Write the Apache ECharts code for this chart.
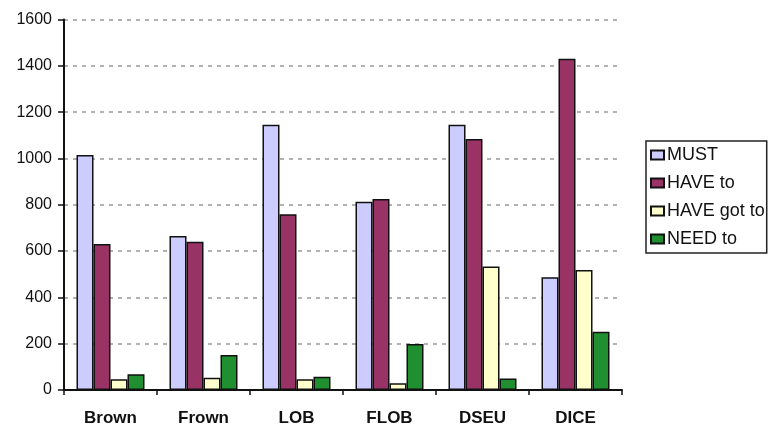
<!DOCTYPE html>
<html lang="en">
<head>
    <meta charset="UTF-8">
    <title>Modal verbs</title>
    <script src="https://cdn.jsdelivr.net/npm/echarts@6/dist/echarts.min.js"></script>
<style>
    html,body{margin:0;padding:0;background:#fff;}
    #zhuzhuangtu{
        width: 773px;
        height: 429px;
    }
</style>
</head>
<body>
<div id="zhuzhuangtu"></div>
<script>
    var corpora = ['Brown', 'Frown', 'LOB', 'FLOB', 'DSEU', 'DICE'];
    var must    = [1015, 665, 1145, 813, 1145, 487];
    var haveTo  = [630, 640, 759, 825, 1084, 1430];
    var haveGot = [46, 53, 46, 29, 533, 518];
    var needTo  = [68, 151, 57, 199, 50, 252];
    var yTicks  = {min: 0, max: 1600, interval: 200};

    function bar(name, data, color) {
        return {
            name: name,
            type: 'bar',
            data: data,
            barWidth: 17,
            barGap: '0%',
            itemStyle: {color: color, borderColor: '#111', borderWidth: 1.5}
        };
    }

    var chart = echarts.init(document.getElementById('zhuzhuangtu'));
    var option = {
        animation: false,
        textStyle: {fontFamily: 'Liberation Sans'},
        grid: {left: 64, right: 151, top: 19.5, bottom: 39},
        legend: {
            orient: 'vertical',
            left: 646,
            top: 141,
            icon: 'rect',
            itemWidth: 13,
            itemHeight: 9,
            itemGap: 10,
            padding: [5, 2, 5, 4],
            borderColor: '#222',
            borderWidth: 1.5,
            textStyle: {fontSize: 18, color: '#111', padding: [0, 0, 0, -2]},
            data: ['MUST', 'HAVE to', 'HAVE got to', 'NEED to']
        },
        xAxis: {
            type: 'category',
            data: corpora,
            axisLine: {lineStyle: {color: '#111', width: 2}},
            axisTick: {show: true, length: 5, lineStyle: {color: '#111', width: 1.5}},
            axisLabel: {fontSize: 17, fontWeight: 'bold', color: '#111', margin: 20}
        },
        yAxis: {
            type: 'value',
            min: yTicks.min,
            max: yTicks.max,
            interval: yTicks.interval,
            axisLine: {show: true, lineStyle: {color: '#111', width: 2}},
            axisTick: {show: true, length: 6, lineStyle: {color: '#111', width: 1.5}},
            axisLabel: {fontSize: 16, color: '#111', margin: 12, formatter: function (v) { return String(v); }},
            splitLine: {lineStyle: {color: '#999', type: [4, 5], width: 1.5}}
        },
        series: [
            bar('MUST', must, '#ccccff'),
            bar('HAVE to', haveTo, '#993366'),
            bar('HAVE got to', haveGot, '#ffffcc'),
            bar('NEED to', needTo, '#1f8f2f')
        ]
    };
    chart.setOption(option);
</script>
</body>
</html>
